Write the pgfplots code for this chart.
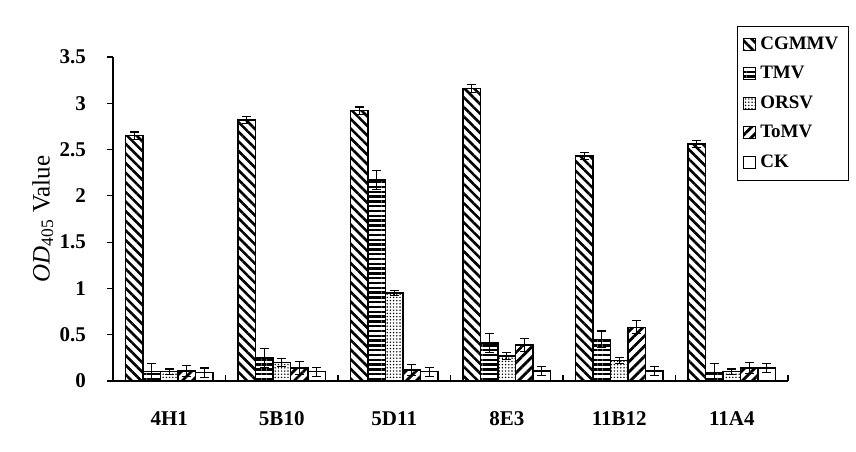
\documentclass[border=0pt]{standalone}
\usepackage{fontspec}
\setmainfont{Liberation Serif}
\usepackage{pgfplots}
\pgfplotsset{compat=1.18}
\usepackage{pgfplotstable}
\usetikzlibrary{patterns.meta}

% OD405 means and error per antibody (x = group index)
\pgfplotstableread{
x cg cge tm tme or ore to toe ck cke
0 2.65 0.04 0.10 0.09 0.10 0.03 0.11 0.06 0.09 0.05
1 2.82 0.04 0.25 0.10 0.20 0.04 0.14 0.07 0.10 0.05
2 2.92 0.04 2.17 0.10 0.95 0.03 0.12 0.06 0.10 0.05
3 3.16 0.04 0.41 0.10 0.27 0.04 0.39 0.07 0.11 0.05
4 2.43 0.04 0.45 0.09 0.22 0.03 0.58 0.07 0.11 0.05
5 2.56 0.04 0.09 0.10 0.10 0.03 0.14 0.06 0.14 0.05
}\datatable

\begin{document}
\begin{tikzpicture}
\useasboundingbox (-56.5pt,-35pt) rectangle (371.5pt,190.5pt);
\begin{axis}[
  at={(0pt,0pt)}, anchor=south west,
  width=337.5pt, height=162pt, scale only axis,
  axis x line=bottom, axis y line=left,
  axis line style={-, line width=0.7pt},
  xmin=-0.5, xmax=5.5, ymin=0, ymax=3.5,
  xtick={-0.5,0.5,...,5.5}, x tick label as interval,
  xticklabels={4H1,5B10,5D11,8E3,11B12,11A4},
  ytick={0,0.5,...,3.5},
  tick align=outside, major tick length=3pt,
  tick style={black, line width=0.6pt},
  xtick style={yshift=3pt},
  /pgf/number format/assume math mode=true,
  yticklabel style={font=\bfseries\fontsize{10.5}{12}\selectfont, xshift=-7pt},
  xticklabel style={font=\bfseries\fontsize{10.5}{12}\selectfont, yshift=-19pt, anchor=base, text depth=0pt},
  ylabel={\textit{OD}\textsubscript{405} Value},
  ylabel style={font=\fontsize{12.5}{14}\selectfont, at={(axis description cs:-0.104,0.5)}, anchor=center},
  ybar, bar width=0.155,
  error bars/error bar style={black, line width=0.55pt},
  error bars/error mark options={rotate=90, mark size=2.2pt, line width=0.55pt, black},
  legend image code/.code={\draw[#1, line width=0.5pt] (0pt,-3pt) rectangle (6pt,3pt);},
  legend cell align=left,
  legend style={at={(rel axis cs:0.924,1.096)}, anchor=north west, draw=black, line width=0.6pt,
    font=\bfseries\fontsize{9.5}{11}\selectfont, row sep=3pt, inner sep=3pt},
]
\addplot[draw=black, line width=0.7pt, pattern={Lines[angle=-45,distance=3.4pt,line width=1.3pt]}, bar shift=-0.31,
  error bars/.cd, y dir=both, y explicit] table[x=x,y=cg,y error=cge]{\datatable};
\addplot[draw=black, line width=0.7pt, pattern={Lines[angle=0,distance=2.4pt,line width=1.2pt]}, bar shift=-0.155,
  error bars/.cd, y dir=both, y explicit] table[x=x,y=tm,y error=tme]{\datatable};
\addplot[draw=black, line width=0.7pt, pattern={Dots[distance=1.6pt,radius=0.4pt]}, bar shift=0,
  error bars/.cd, y dir=both, y explicit] table[x=x,y=or,y error=ore]{\datatable};
\addplot[draw=black, line width=0.7pt, pattern={Lines[angle=45,distance=3.6pt,line width=1.4pt]}, bar shift=0.155,
  error bars/.cd, y dir=both, y explicit] table[x=x,y=to,y error=toe]{\datatable};
\addplot[draw=black, line width=0.7pt, fill=white, bar shift=0.31,
  error bars/.cd, y dir=both, y explicit] table[x=x,y=ck,y error=cke]{\datatable};
\legend{CGMMV,TMV,ORSV,ToMV,CK}
\end{axis}
\end{tikzpicture}
\end{document}
